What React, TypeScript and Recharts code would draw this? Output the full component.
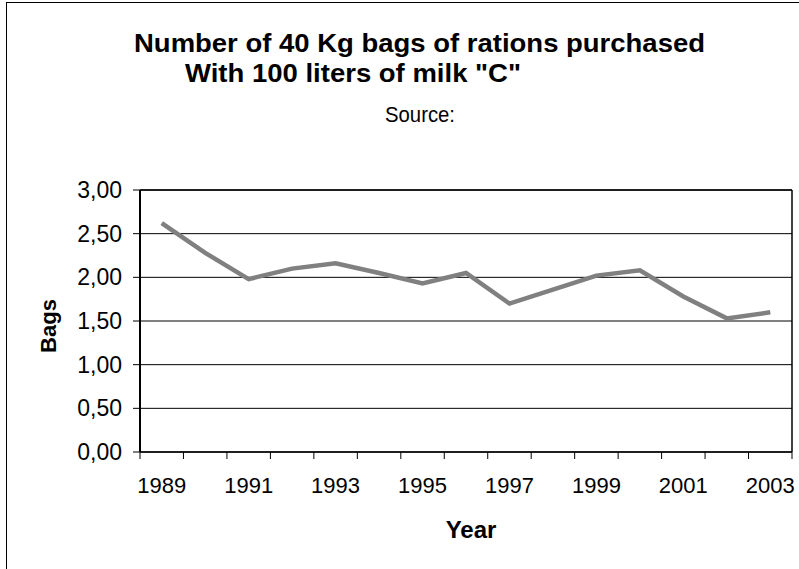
import { LineChart, Line, XAxis, YAxis, CartesianGrid, ReferenceLine } from 'recharts';

const YEARS = [1989, 1990, 1991, 1992, 1993, 1994, 1995, 1996, 1997, 1998, 1999, 2000, 2001, 2002, 2003];
const BAGS = [2.62, 2.28, 1.98, 2.1, 2.16, 2.05, 1.93, 2.05, 1.7, 1.86, 2.02, 2.08, 1.78, 1.53, 1.6];
const YEAR_LABELS = [1989, 1991, 1993, 1995, 1997, 1999, 2001, 2003];
const Y_TICKS = [0, 0.5, 1, 1.5, 2, 2.5, 3];

const FONT = '"Liberation Sans", Arial, sans-serif';

const data = YEARS.map((year, i) => ({ year, bags: BAGS[i] }));

// tick marks sit between categories, labels on every other category
const boundaries = [...YEARS.map((y) => y - 0.5), YEARS[YEARS.length - 1] + 0.5];
const xTicks = [...boundaries, ...YEAR_LABELS].sort((a, b) => a - b);

function YearTick(props: any) {
  const { x, y, payload } = props;
  const v = payload.value as number;
  if (!Number.isInteger(v)) {
    return <line x1={x} x2={x} y1={y} y2={y + 7} stroke="#000" strokeWidth={1} />;
  }
  if (YEAR_LABELS.includes(v)) {
    return (
      <text x={x} y={y + 41} textAnchor="middle" fontSize={22} fontFamily={FONT} fill="#000">
        {v}
      </text>
    );
  }
  return <g />;
}

export default function App() {
  return (
    <div
      style={{
        position: 'absolute',
        left: 0,
        top: 0,
        width: 799,
        height: 569,
        overflow: 'hidden',
        background: '#fff',
      }}
    >
      <div
        style={{
          position: 'absolute',
          left: 6,
          top: 2,
          width: 820,
          height: 600,
          borderLeft: '1.5px solid #000',
          borderTop: '1.5px solid #000',
        }}
      />
      <div style={{ position: 'absolute', left: 0, top: 0 }}>
        <LineChart width={799} height={569} data={data} margin={{ top: 190, right: 7, bottom: 0, left: 0 }}>
          <CartesianGrid vertical={false} stroke="#000" strokeWidth={1} />
          <XAxis
            dataKey="year"
            type="number"
            domain={[1988.5, 2003.5]}
            ticks={xTicks}
            interval={0}
            height={117}
            tickSize={0}
            tickMargin={0}
            tickLine={false}
            axisLine={{ stroke: '#000', strokeWidth: 1.5 }}
            tick={<YearTick />}
          />
          <YAxis
            domain={[0, 3]}
            ticks={Y_TICKS}
            interval={0}
            width={140}
            tickSize={7}
            tickMargin={11}
            tickLine={{ stroke: '#000' }}
            axisLine={{ stroke: '#000', strokeWidth: 2 }}
            tick={{ fontSize: 23, fill: '#000', fontFamily: FONT }}
            tickFormatter={(v: number) => v.toFixed(2).replace('.', ',')}
          />
          <ReferenceLine x={2003.5} stroke="#000" strokeWidth={1.5} />
          <ReferenceLine y={3} stroke="#000" strokeWidth={1.5} />
          <Line
            type="linear"
            dataKey="bags"
            stroke="#808080"
            strokeWidth={4.5}
            dot={false}
            isAnimationActive={false}
          />
        </LineChart>
      </div>
      <svg
        width={799}
        height={569}
        style={{ position: 'absolute', left: 0, top: 0, pointerEvents: 'none' }}
        fontFamily={FONT}
      >
        <text x={134} y={52} fontSize={26} fontWeight="bold" textLength={571} lengthAdjust="spacingAndGlyphs">
          Number of 40 Kg bags of rations purchased
        </text>
        <text x={185} y={82} fontSize={26} fontWeight="bold" textLength={336} lengthAdjust="spacingAndGlyphs">
          With 100 liters of milk "C"
        </text>
        <text x={385} y={122} fontSize={22} textLength={70} lengthAdjust="spacingAndGlyphs">
          Source:
        </text>
        <text x={471} y={538} fontSize={24} fontWeight="bold" textAnchor="middle">
          Year
        </text>
        <text
          x={56}
          y={326}
          fontSize={22}
          fontWeight="bold"
          textAnchor="middle"
          transform="rotate(-90, 56, 326)"
        >
          Bags
        </text>
      </svg>
    </div>
  );
}
